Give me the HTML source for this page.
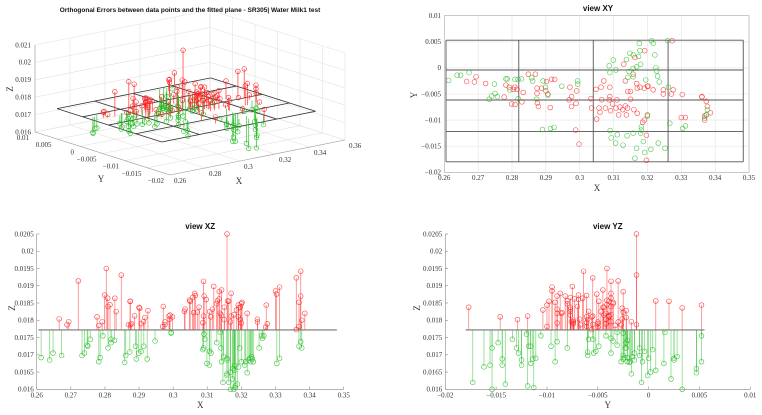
<!DOCTYPE html>
<html><head><meta charset="utf-8"><style>
body{margin:0;background:#fff}
svg{display:block}
.tk{font-family:"Liberation Serif",serif;font-size:7px;fill:#333}
.ttl{font-family:"Liberation Sans",sans-serif;font-size:8px;font-weight:bold;fill:#111}
.al{font-family:"Liberation Serif",serif;font-size:9px;fill:#333}
</style></head><body>
<svg id="s" width="762" height="415" viewBox="0 0 762 415" xmlns="http://www.w3.org/2000/svg"></svg>
<script>
const planeZ = 0.01772;
const xs = [.2666,.2689,.2694,.2722,.2782,.2792,.2804,.2808,.2777,.2799,.2809,.2815,.2829,.2833,.2848,.2869,.2874,.2874,.2875,.2878,.2887,.2900,.2902,.2917,.2926,.2913,.2906,.2971,.2976,.2969,.2976,.2989,.2991,.2988,.2998,.3033,.3035,.3048,.3050,.3057,.3063,.3065,.3060,.3071,.3076,.3089,.3089,.3087,.3091,.3097,.3107,.3110,.3115,.3119,.3127,.3135,.3138,.3141,.3135,.3130,.3142,.3150,.3150,.3158,.3163,.3160,.3168,.3170,.3170,.3178,.3186,.3191,.3191,.3192,.3200,.3200,.3197,.3197,.3202,.3217,.3247,.3247,.3273,.3276,.3271,.3303,.3300,.3312,.3361,.3374,.3374,.3369,.3386,.3369,.3377,
.2613,.2638,.2648,.2673,.2733,.2740,.2750,.2757,.2748,.2782,.2786,.2794,.2809,.2818,.2818,.2828,.2858,.2861,.2873,.2892,.2899,.2906,.2890,.2914,.2924,.2947,.2994,.2994,.3087,.3099,.3089,.3107,.3138,.3148,.3158,.3146,.3142,.3158,.3174,.3176,.3178,.3180,.3158,.3168,.3212,.3217,.3222,.3225,.3227,.3230,.3235,.3260,.3262,.3195,.3200,.3182,.3182,.3180,.3158,.3140,.3111,.3128,.3106,.3093,.3090,.3168,.3163,.3188,.3192,.3210,.3232,.3252,.3266,.3304,.3312,.3369,.3377,.3361,.3374];
const ys = [-.0026,-.0027,-.0017,-.0030,-.0033,-.0037,-.0041,-.0037,-.0056,-.0069,-.0070,-.0041,-.0065,-.0047,-.0012,-.0012,-.0039,-.0049,-.0067,-.0074,-.0039,-.0044,-.0026,-.0022,-.0022,-.0076,-.0050,-.0037,-.0055,-.0061,-.0074,-.0068,-.0044,-.0119,-.0146,-.0059,-.0077,-.0041,-.0098,-.0077,-.0037,-.0061,-.0085,-.0025,-.0077,-.0037,-.0055,-.0061,-.0082,-.0069,-.0077,-.0061,-.0090,-.0075,-.0080,-.0073,-.0090,-.0077,-.0025,.0007,-.0045,-.0045,-.0060,-.0012,.0020,-.0080,-.0030,-.0039,-.0087,-.0037,-.0104,-.0100,-.0039,.0033,-.0035,-.0090,-.0129,-.0177,-.0035,-.0042,-.0042,-.0050,.0052,-.0042,-.0050,-.0051,-.0095,-.0095,-.0055,-.0064,-.0090,-.0092,-.0086,-.0100,-.0074,
-.0024,-.0014,-.0014,-.0009,-.0060,-.0054,-.0049,-.0055,-.0031,-.0021,-.0021,-.0042,-.0022,-.0022,-.0059,-.0021,-.0019,-.0025,-.0060,-.0025,-.0037,-.0052,-.0118,-.0116,-.0114,-.0035,-.0025,-.0031,.0004,.0015,-.0009,-.0004,.0016,.0028,.0025,-.0007,-.0018,-.0017,.0022,.0047,.0033,.0007,-.0001,.0002,.0052,.0047,.0025,.0000,-.0006,-.0016,-.0027,.0052,-.0037,-.0023,-.0092,-.0113,-.0119,-.0125,-.0125,-.0130,-.0128,-.0148,-.0144,-.0134,-.0120,-.0154,-.0173,-.0141,-.0162,-.0156,-.0144,-.0154,-.0106,-.0116,-.0111,-.0096,-.0080,-.0056,-.0090];
const zs = [.01804,.01787,.01796,.01914,.01785,.01796,.0195,.01864,.0181,.01873,.0184,.01845,.01864,.01825,.01931,.01787,.01855,.01855,.01787,.0179,.01813,.01837,.01835,.01808,.01828,.01796,.0179,.0184,.01788,.01782,.01795,.01803,.01815,.01812,.0181,.01826,.01832,.01858,.01855,.01866,.01878,.01872,.01822,.01823,.01838,.01913,.01812,.01793,.0187,.0186,.01825,.0181,.01832,.01898,.01848,.01862,.0182,.01815,.01883,.01856,.01888,.01838,.01802,.0205,.01855,.01856,.01795,.01812,.01878,.01816,.0183,.01844,.0181,.01836,.01848,.01792,.01802,.01838,.01852,.0182,.01803,.01795,.01844,.0179,.0178,.01876,.01885,.01896,.01923,.01942,.0187,.01852,.0182,.01782,.018,
.01692,.01685,.01705,.01698,.01698,.01705,.01725,.01745,.01728,.0168,.01692,.01755,.0172,.01735,.01745,.01742,.01678,.01698,.01708,.01688,.01705,.0171,.01725,.01725,.01688,.0174,.01763,.01765,.01715,.01675,.0172,.0171,.01765,.01695,.0169,.0162,.0168,.01645,.0163,.0166,.016,.01655,.0164,.0165,.0168,.01648,.01685,.0169,.0168,.01695,.0168,.01755,.01748,.0172,.0168,.01605,.0161,.0167,.01685,.0172,.01705,.01735,.0167,.01745,.0176,.016,.0162,.01615,.01665,.0167,.01688,.0172,.01755,.01675,.0169,.01725,.0172,.01773,.01738];
const xTicks = [0.26,0.27,0.28,0.29,0.3,0.31,0.32,0.33,0.34,0.35];
const xTickLabels = ["0.26","0.27","0.28","0.29","0.3","0.31","0.32","0.33","0.34","0.35"];
const yTicksXY = [0.01,0.005,0,-0.005,-0.01,-0.015,-0.02];
const yTickLabelsXY = ["0.01","0.005","0","\u22120.005","\u22120.01","\u22120.015","\u22120.02"];
const zTicks = [0.016,0.0165,0.017,0.0175,0.018,0.0185,0.019,0.0195,0.02,0.0205];
const zTickLabels = ["0.016","0.0165","0.017","0.0175","0.018","0.0185","0.019","0.0195","0.02","0.0205"];
const yTicksYZ = [-0.02,-0.015,-0.01,-0.005,0,0.005,0.01];
const yTickLabelsYZ = ["\u22120.02","\u22120.015","\u22120.01","\u22120.005","0","0.005","0.01"];
const planeXs = [0.2605,0.2820,0.3040,0.3261,0.3483];
const planeYs = [0.0053,-0.0004,-0.00615,-0.0122,-0.018];
const z3Ticks=[0.016,0.017,0.018,0.019,0.02,0.021];
const x3Ticks=[0.26,0.28,0.3,0.32,0.34,0.36];
const y3Ticks=[0.01,0.005,0,-0.005,-0.01,-0.015,-0.02];
const y3Labels=["0.01","0.005","0","\u22120.005","\u22120.01","\u22120.015","\u22120.02"];

const S=document.getElementById('s');const NS="http://www.w3.org/2000/svg";
function mk(t,a,p){const e=document.createElementNS(NS,t);for(const k in a)e.setAttribute(k,a[k]);(p||S).appendChild(e);return e;}
function txt(x,y,s,cls,anchor,p){const e=mk('text',{x:x,y:y,class:cls,'text-anchor':anchor||'middle'},p);e.textContent=s;return e;}
const RED='#ff2020',GRN='#22bb22';
function col(z){return z>=planeZ?RED:GRN;}

// ---------- XY ----------
const gxy=mk('g',{});
const xyX=v=>444.3+(v-0.26)/0.09*304.7, xyY=v=>15.7+(0.01-v)/0.03*156.6;
xTicks.forEach((t,i)=>{mk('line',{x1:xyX(t),x2:xyX(t),y1:15.7,y2:172.3,stroke:'#e4e4e4','stroke-width':.6},gxy);
 const l=txt(xyX(t),180,xTickLabels[i],'tk','middle',gxy);});
yTicksXY.forEach((t,i)=>{mk('line',{x1:444.3,x2:749,y1:xyY(t),y2:xyY(t),stroke:'#e4e4e4','stroke-width':.6},gxy);
 const l=txt(441,xyY(t)+2.3,yTickLabelsXY[i],'tk','end',gxy);});
mk('rect',{x:444.3,y:15.7,width:304.7,height:156.6,fill:'none',stroke:'#aaa','stroke-width':.6},gxy);
planeXs.forEach(v=>mk('line',{x1:xyX(v),x2:xyX(v),y1:xyY(planeYs[0]),y2:xyY(planeYs[planeYs.length-1]),stroke:'#555','stroke-width':.9},gxy));
planeYs.forEach(v=>mk('line',{x1:xyX(planeXs[0]),x2:xyX(planeXs[planeXs.length-1]),y1:xyY(v),y2:xyY(v),stroke:'#555','stroke-width':.9},gxy));
xs.forEach((x,i)=>{const c=mk('circle',{cx:xyX(x),cy:xyY(ys[i]),r:2.4,fill:'none',stroke:col(zs[i]),'stroke-width':.6,opacity:.8},gxy);
 });
let t=txt(598,11,'view XY','ttl','middle',gxy);
t=txt(597,191,'X','al','middle',gxy);
t=txt(414,98,'Y','al','middle',gxy);t.setAttribute('transform','rotate(-90 414 95)');

// ---------- stem panels ----------
const zY=v=>234+(0.0205-v)/0.0045*155.3;
function stemPanel(name,x0,x1,vmin,vmax,ticks,labels,vals,lmin,lmax,title,xlab,tx){
 const g=mk('g',{});
 const X=v=>x0+(v-vmin)/(vmax-vmin)*(x1-x0);
 mk('line',{x1:x0,x2:x1,y1:389.3,y2:389.3,stroke:'#888','stroke-width':.6},g);
 mk('line',{x1:x0,x2:x0,y1:234,y2:389.3,stroke:'#888','stroke-width':.6},g);
 ticks.forEach((tv,i)=>{mk('line',{x1:X(tv),x2:X(tv),y1:389.3,y2:386.5,stroke:'#888','stroke-width':.6},g);
  const l=txt(X(tv),397.5,labels[i],'tk','middle',g);});
 zTicks.forEach((tv,i)=>{mk('line',{x1:x0,x2:x0+2.8,y1:zY(tv),y2:zY(tv),stroke:'#888','stroke-width':.6},g);
  const l=txt(x0-3,zY(tv)+2.3,zTickLabels[i],'tk','end',g);});
 vals.forEach((v,i)=>{const z=zs[i],c=col(z);
  mk('line',{x1:X(v),x2:X(v),y1:zY(planeZ),y2:zY(z),stroke:c,'stroke-width':.8,opacity:.55},g);});
 mk('line',{x1:X(lmin),x2:X(lmax),y1:zY(planeZ),y2:zY(planeZ),stroke:'#777','stroke-width':1.1},g);
 vals.forEach((v,i)=>{const c=mk('circle',{cx:X(v),cy:zY(zs[i]),r:2.4,fill:'none',stroke:col(zs[i]),'stroke-width':.6,opacity:.85},g);
  });
 let a=txt((x0+x1)/2+10,229,title,'ttl','middle',g);
 a=txt((x0+x1)/2+10,408,xlab,'al','middle',g);
 a=txt(tx,311,'Z','al','middle',g);a.setAttribute('transform','rotate(-90 '+tx+' 308)');
}
stemPanel('view-xz-panel',36.7,343.7,0.26,0.35,xTicks,xTickLabels,xs,0.2605,0.348,'view XZ','X',12);
stemPanel('view-yz-panel',445.3,750.3,-0.02,0.01,yTicksYZ,yTickLabelsYZ,ys,-0.018,0.0055,'view YZ','Y',417);

// ---------- 3D ----------
const g3=mk('g',{});
function P(x,y,z){const a=(x-0.26)/0.1,b=(y+0.02)/0.03,c=(z-0.016)/0.005;return [170+a*175-b*135,175-a*35-b*43-c*87];}
function L3(p,q,st,w){const A=P(...p),B=P(...q);return mk('line',{x1:A[0],y1:A[1],x2:B[0],y2:B[1],stroke:st,'stroke-width':w},g3);}
const GC='#e2e2e2';
z3Ticks.forEach(z=>{L3([0.26,0.01,z],[0.36,0.01,z],GC,.6);L3([0.36,0.01,z],[0.36,-0.02,z],GC,.6);});
x3Ticks.forEach(x=>{L3([x,0.01,0.016],[x,0.01,0.021],GC,.6);L3([x,-0.02,0.016],[x,0.01,0.016],GC,.6);});
y3Ticks.forEach(y=>{L3([0.36,y,0.016],[0.36,y,0.021],GC,.6);L3([0.26,y,0.016],[0.36,y,0.016],GC,.6);});
L3([0.26,0.01,0.016],[0.26,0.01,0.021],'#999',.6);
L3([0.26,0.01,0.016],[0.26,-0.02,0.016],'#999',.6);
L3([0.26,-0.02,0.016],[0.36,-0.02,0.016],'#999',.6);
z3Ticks.forEach(z=>{const p=P(0.26,0.01,z);const l=txt(p[0]-4,p[1]+2.3,z.toString(),'tk','end',g3);});
y3Ticks.forEach((y,i)=>{const p=P(0.26,y,0.016);const l=txt(p[0]-6,p[1]+8,y3Labels[i],'tk','end',g3);});
x3Ticks.forEach(x=>{const p=P(x,-0.02,0.016);const l=txt(p[0]+4,p[1]+8,x.toString(),'tk','start',g3);});
planeXs.forEach(x=>L3([x,planeYs[0],planeZ],[x,planeYs[4],planeZ],'#333',.8));
planeYs.forEach(y=>L3([planeXs[0],y,planeZ],[planeXs[4],y,planeZ],'#333',.8));
xs.forEach((x,i)=>{L3([x,ys[i],planeZ],[x,ys[i],zs[i]],col(zs[i]),.8).setAttribute('opacity',.8);});
xs.forEach((x,i)=>{const p=P(x,ys[i],zs[i]);const c=mk('circle',{cx:p[0],cy:p[1],r:2.3,fill:'none',stroke:col(zs[i]),'stroke-width':.6},g3);
 });
t=txt(190,12,'Orthogonal Errors between data points and the fitted plane - SR305| Water Milk1 test','ttl','middle',g3);t.setAttribute('style','font-size:6.5px');
t=txt(10,92,'Z','al','middle',g3);t.setAttribute('transform','rotate(-90 10 89)');
t=txt(101,182,'Y','al','middle',g3);
t=txt(239,184,'X','al','middle',g3);
</script>
</body></html>
